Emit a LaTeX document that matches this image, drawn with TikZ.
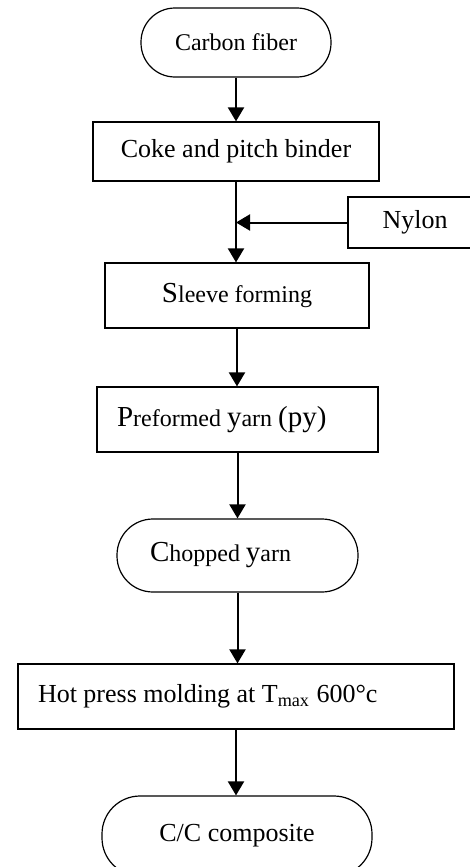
\documentclass[tikz,border=0pt]{standalone}
\usepackage{fontspec}
\setmainfont{Liberation Serif}
\usetikzlibrary{arrows.meta}
\newcommand\bigch[1]{{\fontsize{14.5}{15}\selectfont #1}}

\begin{document}
\begin{tikzpicture}[x=0.5pt, y=-0.5pt,
	box/.style={draw, line width=0.6pt, inner sep=0pt, font=\fontsize{13}{15}\selectfont},
	term/.style={box, rounded corners=17pt},
	arr/.style={line width=1pt, -{Triangle[width=8pt,length=7pt]}}]
			\useasboundingbox (0,0) rectangle (470,867);
			\node[term, minimum width=95pt, minimum height=34.5pt, font=\fontsize{12}{14}\selectfont] (fiber) at (236,42.5) {Carbon fiber};
			\node[box, minimum width=143pt, minimum height=29.5pt] (coke) at (236,151.5) {Coke and pitch binder};
			\node[box, minimum width=67pt, minimum height=25.5pt] (nylon) at (415,222.5) {Nylon};
			\node[box, minimum width=132pt, minimum height=32.5pt, font=\fontsize{12}{14}\selectfont] (sleeve) at (237,295.5) {\bigch{S}leeve forming};
			\node[box, inner xsep=10pt, text width=120.5pt, align=flush left, minimum height=32.5pt, font=\fontsize{12}{14}\selectfont] (pre) at (237.5,419.5) {\bigch{P}reformed \bigch{y}arn \bigch{(py)}};
			\node[term, rounded corners=18pt, inner xsep=16.5pt, text width=87.5pt, align=flush left, minimum height=36.5pt, font=\fontsize{12}{14}\selectfont] (chop) at (237.5,555.5) {\bigch{C}hopped \bigch{y}arn};
			\node[box, inner xsep=10pt, text width=198pt, align=flush left, minimum height=32.5pt, font=\fontsize{13}{14}\selectfont] (hot) at (236,696.5) {Hot press molding at T\textsubscript{max} 600°c};
			\node[term, rounded corners=19pt, minimum width=135pt, minimum height=40pt] (cc) at (237,836) {C/C composite};
			\foreach \a/\b in {fiber/coke,coke/sleeve,sleeve/pre,pre/chop,chop/hot,hot/cc}
				\draw[arr] (\a.south) -- (\a.south |- \b.north);
			\draw[arr] (nylon.west) -- (nylon.west -| coke.south);
		\end{tikzpicture}
\end{document}
